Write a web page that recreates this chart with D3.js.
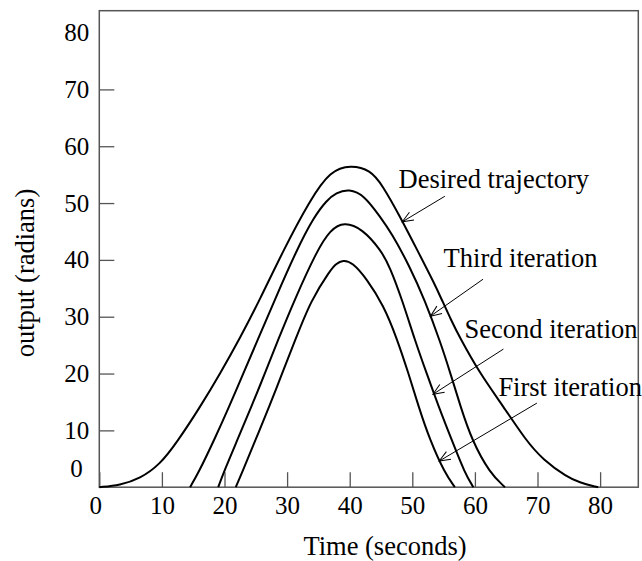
<!DOCTYPE html>
<html>
<head>
<meta charset="utf-8">
<script src="https://cdn.jsdelivr.net/npm/d3@7"></script>
<style>
    html, body { margin: 0; padding: 0; background: #fff; }
    svg { display: block; }
</style>
</head>
<body>
<div id="chart"></div>
<script>
var xTicks = [0, 10, 20, 30, 40, 50, 60, 70, 80];
var yTicks = [0, 10, 20, 30, 40, 50, 60, 70, 80];

// curves (time in seconds, output in radians)
var desiredT = [0, 3.3, 6.5, 9.7, 12.4, 16.1, 19.3, 22.5, 25.6, 29.4, 33.7, 36.9, 40.2, 43.3, 45.2, 48.05, 50.8, 53.5, 54.75, 56.2, 57.6, 60.8, 64.55, 68.1, 70.9, 74.7, 76.8, 78.9, 79.7];
var desiredY = [0, 0.35, 1.5, 4.0, 7.9, 14.1, 20.0, 26.3, 32.9, 41.7, 50.6, 55.7, 56.7, 55.8, 53.2, 47.6, 41.7, 35.9, 32.9, 29.4, 26.3, 20.0, 14.2, 8.3, 4.8, 1.8, 0.8, 0.2, 0];

var thirdT = [14.5, 15.8, 18.35, 20.75, 23.0, 25.3, 28.0, 31.5, 34.3, 36.35, 37.8, 39.9, 42.3, 44.85, 46.7, 49.6, 52.0, 54.5, 56.1, 57.7, 59.5, 62.4, 64.8];
var thirdY = [0, 2.45, 8.3, 14.2, 20.0, 25.9, 32.9, 41.7, 47.6, 50.5, 51.8, 52.5, 51.4, 47.6, 44.7, 38.8, 32.9, 25.5, 20.0, 14.2, 8.3, 2.45, 0];

var secondT = [19.0, 19.8, 22.05, 24.3, 26.45, 28.55, 31.15, 34.8, 36.9, 39.1, 42.0, 45.0, 46.4, 48.4, 50.4, 52.3, 54.2, 56.3, 58.4, 59.75];
var secondY = [0, 2.45, 8.3, 14.2, 20.0, 25.9, 32.9, 41.7, 45.3, 46.7, 45.5, 41.7, 38.8, 32.9, 25.9, 20.0, 14.2, 8.3, 2.45, 0];

var firstT = [21.8, 22.75, 24.95, 27.15, 29.2, 31.3, 33.8, 36.9, 37.8, 38.9, 40.4, 42.7, 45.4, 47.5, 49.4, 51.0, 52.8, 55.2, 56.8];
var firstY = [0, 2.45, 8.3, 14.2, 20.0, 25.9, 32.9, 38.2, 39.3, 40.0, 39.6, 36.7, 32.0, 26.3, 20.0, 14.2, 8.3, 2.45, 0];

var labels = ['Desired trajectory', 'Third iteration', 'Second iteration', 'First iteration'];

// annotation anchors, in data units
var labelAt = [[47.8, 52.6], [55.0, 38.7], [58.35, 26.2], [63.75, 16.1]];
var arrowFrom = [[55.2, 51.2], [61.3, 36.6], [64.55, 24.3], [69.9, 14.8]];
var arrowTo = [[48.4, 46.7], [52.9, 30.1], [53.3, 16.35], [54.3, 4.6]];

(function () {
    'use strict';

    var serif = '"Liberation Serif", "Times New Roman", serif';
    var width = 642;
    var height = 561;
    var margin = { top: 10.7, right: 3.7, bottom: 73.8, left: 99.3 };
    var innerW = width - margin.left - margin.right;
    var innerH = height - margin.top - margin.bottom;
    var axisGrey = '#555';

    var x = d3.scaleLinear().domain([0, 86.1]).range([0, innerW]);
    var y = d3.scaleLinear().domain([0, 83.85]).range([innerH, 0]);

    var svg = d3.select('#chart').append('svg')
        .attr('width', width)
        .attr('height', height)
        .style('background', '#fff');

    var defs = svg.append('defs');
    defs.append('marker')
        .attr('id', 'head')
        .attr('markerUnits', 'userSpaceOnUse')
        .attr('viewBox', '-12 -6 14 12')
        .attr('refX', 0)
        .attr('refY', 0)
        .attr('markerWidth', 14)
        .attr('markerHeight', 12)
        .attr('orient', 'auto')
        .append('path')
        .attr('d', 'M-11,-4.5L0,0L-11,4.5')
        .attr('fill', 'none')
        .attr('stroke', '#000')
        .attr('stroke-width', 1);

    var g = svg.append('g')
        .attr('transform', 'translate(' + margin.left + ',' + margin.top + ')');

    // frame
    g.append('rect')
        .attr('width', innerW)
        .attr('height', innerH)
        .attr('fill', 'none')
        .attr('stroke', axisGrey)
        .attr('stroke-width', 1.5);

    var gx = g.append('g')
        .attr('transform', 'translate(0,' + innerH + ')')
        .call(d3.axisBottom(x).tickValues(xTicks).tickSizeInner(-15).tickSizeOuter(0).tickPadding(9));
    gx.select('.domain').remove();
    gx.attr('font-family', serif).attr('font-size', 25);
    gx.selectAll('.tick line').attr('stroke', axisGrey).attr('stroke-width', 1.3);
    gx.selectAll('.tick text').attr('fill', '#000');
    gx.selectAll('.tick').filter(function (d) { return d === 0; })
        .select('text').attr('x', -4);

    var gy = g.append('g')
        .call(d3.axisLeft(y).tickValues(yTicks).tickSizeInner(-15).tickSizeOuter(0).tickPadding(10));
    gy.select('.domain').remove();
    gy.attr('font-family', serif).attr('font-size', 25);
    gy.selectAll('.tick line').attr('stroke', axisGrey).attr('stroke-width', 1.3);
    gy.selectAll('.tick text').attr('fill', '#000');
    gy.selectAll('.tick').filter(function (d) { return d === 0 || d === 80; })
        .select('line').remove();
    // the zero label sits above the corner in the original
    gy.selectAll('.tick').filter(function (d) { return d === 0; })
        .select('text').attr('x', -16.5).attr('y', -19);

    var line = d3.line()
        .x(function (d) { return x(d[0]); })
        .y(function (d) { return y(d[1]); })
        .curve(d3.curveBasis);

    var series = [
        d3.zip(desiredT, desiredY),
        d3.zip(thirdT, thirdY),
        d3.zip(secondT, secondY),
        d3.zip(firstT, firstY)
    ];

    g.append('g').selectAll('path').data(series).enter().append('path')
        .attr('d', line)
        .attr('fill', 'none')
        .attr('stroke', '#000')
        .attr('stroke-width', 2);

    var notes = labels.map(function (text, i) {
        return { text: text, at: labelAt[i], from: arrowFrom[i], to: arrowTo[i] };
    });

    var note = g.append('g').selectAll('g').data(notes).enter().append('g');

    note.append('line')
        .attr('x1', function (d) { return x(d.from[0]); })
        .attr('y1', function (d) { return y(d.from[1]); })
        .attr('x2', function (d) { return x(d.to[0]); })
        .attr('y2', function (d) { return y(d.to[1]); })
        .attr('stroke', '#000')
        .attr('stroke-width', 1)
        .attr('marker-end', 'url(#head)');

    note.append('text')
        .attr('x', function (d) { return x(d.at[0]); })
        .attr('y', function (d) { return y(d.at[1]); })
        .attr('font-family', serif)
        .attr('font-size', 26.5)
        .attr('fill', '#000')
        .text(function (d) { return d.text; });

    svg.append('text')
        .attr('x', 385)
        .attr('y', 555)
        .attr('text-anchor', 'middle')
        .attr('font-family', serif)
        .attr('font-size', 26.5)
        .attr('fill', '#000')
        .text('Time (seconds)');

    svg.append('text')
        .attr('transform', 'translate(34,273) rotate(-90)')
        .attr('text-anchor', 'middle')
        .attr('font-family', serif)
        .attr('font-size', 26.5)
        .attr('fill', '#000')
        .text('output (radians)');
})();
</script>
</body>
</html>
